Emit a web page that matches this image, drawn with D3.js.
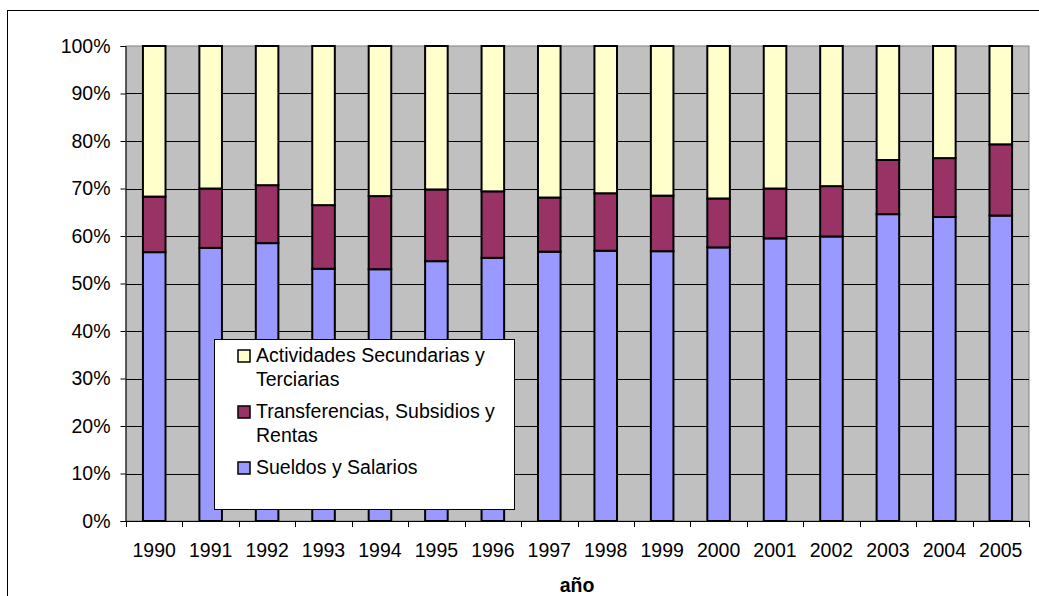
<!DOCTYPE html>
<html>
<head>
<meta charset="utf-8">
<script src="https://cdn.jsdelivr.net/npm/d3@7"></script>
<style>
  body { margin: 0; background: #fff; }
  svg { display: block; font-family: Arial, "Liberation Sans", sans-serif; }
</style>
</head>
<body>
<svg id="chart" width="1039" height="596"></svg>
<script>
const years = ['1990','1991','1992','1993','1994','1995','1996','1997',
  '1998','1999','2000','2001','2002','2003','2004','2005'];

// shares in percent, bottom to top
const sueldos = [56.6, 57.5, 58.5, 53.1, 53.0, 54.7, 55.4, 56.7, 56.9, 56.8, 57.6, 59.5, 59.9, 64.6, 64.0, 64.3];
const transferencias = [11.7, 12.5, 12.2, 13.4, 15.4, 15.1, 14.0, 11.4, 12.1, 11.7, 10.3, 10.5, 10.6, 11.4, 12.4, 15.0];
const actividades = [31.7, 30.0, 29.3, 33.5, 31.6, 30.2, 30.6, 31.9, 31.0, 31.5, 32.1, 30.0, 29.5, 24.0, 23.6, 20.7];

const seriesNames = ['Sueldos y Salarios', 'Transferencias, Subsidios y Rentas', 'Actividades Secundarias y Terciarias'];
const seriesColors = ['#9999FF', '#993366', '#FFFFCC'];
const yTicks = [0, 0.1, 0.2, 0.3, 0.4, 0.5, 0.6, 0.7, 0.8, 0.9, 1];

const fontSize = 19.5;
const svg = d3.select('#chart');

// outer chart border
svg.append('rect')
  .attr('x', 7.5).attr('y', 10.5)
  .attr('width', 1100).attr('height', 700)
  .attr('fill', 'none').attr('stroke', '#000');

const margin = { left: 126, top: 46, right: 1029, bottom: 521 };

const x = d3.scaleBand()
  .domain(years)
  .range([margin.left, margin.right])
  .paddingInner(0.6)
  .paddingOuter(0.3);

const y = d3.scaleLinear().domain([0, 1]).range([margin.bottom, margin.top]);

// build stack table
const table = years.map((yr, i) => ({
  year: yr,
  s0: sueldos[i], s1: transferencias[i], s2: actividades[i]
}));
const stack = d3.stack().keys(['s0', 's1', 's2']).offset(d3.stackOffsetExpand);
const layers = stack(table);

// plot background
svg.append('rect')
  .attr('x', margin.left).attr('y', margin.top)
  .attr('width', margin.right - margin.left)
  .attr('height', margin.bottom - margin.top)
  .attr('fill', '#C0C0C0')
  .attr('stroke', '#808080');

// gridlines
svg.append('g')
  .selectAll('line')
  .data(yTicks.slice(1, -1))
  .join('line')
  .attr('x1', margin.left).attr('x2', margin.right)
  .attr('y1', d => Math.round(y(d)) + 0.5).attr('y2', d => Math.round(y(d)) + 0.5)
  .attr('stroke', '#000').attr('stroke-width', 1);

// bars
svg.append('g')
  .selectAll('g')
  .data(layers)
  .join('g')
  .attr('fill', (d, i) => seriesColors[i])
  .selectAll('rect')
  .data(d => d)
  .join('rect')
  .attr('x', d => x(d.data.year))
  .attr('width', x.bandwidth())
  .attr('y', d => y(d[1]))
  .attr('height', d => y(d[0]) - y(d[1]))
  .attr('stroke', '#000')
  .attr('stroke-width', 2);

// y axis
const yAxis = d3.axisLeft(y)
  .tickValues(yTicks)
  .tickFormat(d3.format('.0%'))
  .tickSize(5)
  .tickPadding(10);
const gy = svg.append('g')
  .attr('transform', `translate(${margin.left - 0.5},0)`)
  .call(yAxis);
gy.select('.domain').attr('stroke', '#000');
gy.selectAll('.tick line').attr('stroke', '#000');
gy.selectAll('.tick text')
  .attr('font-size', fontSize)
  .attr('font-family', 'Arial, "Liberation Sans", sans-serif')
  .attr('fill', '#000');

// x axis with ticks between categories
const boundaries = d3.range(years.length + 1).map(i => margin.left + i * (margin.right - margin.left) / years.length);
const gx = svg.append('g');
gx.append('line')
  .attr('x1', margin.left).attr('x2', margin.right)
  .attr('y1', margin.bottom + 0.5).attr('y2', margin.bottom + 0.5)
  .attr('stroke', '#000');
gx.selectAll('line.tk')
  .data(boundaries)
  .join('line')
  .attr('class', 'tk')
  .attr('x1', d => Math.round(d) + 0.5).attr('x2', d => Math.round(d) + 0.5)
  .attr('y1', margin.bottom).attr('y2', margin.bottom + 6)
  .attr('stroke', '#000');
gx.selectAll('text')
  .data(years)
  .join('text')
  .attr('x', d => x(d) + x.bandwidth() / 2)
  .attr('y', 557)
  .attr('text-anchor', 'middle')
  .attr('font-size', fontSize)
  .text(d => d);

// axis title
svg.append('text')
  .attr('x', 577).attr('y', 592)
  .attr('text-anchor', 'middle')
  .attr('font-size', fontSize)
  .attr('font-weight', 'bold')
  .text('año');

// legend
const legend = svg.append('g');
legend.append('rect')
  .attr('x', 214.5).attr('y', 339.5)
  .attr('width', 300).attr('height', 170)
  .attr('fill', '#fff').attr('stroke', '#000');

const legendItems = [
  { lines: ['Actividades Secundarias y', 'Terciarias'], color: seriesColors[2], y: 362 },
  { lines: ['Transferencias, Subsidios y', 'Rentas'], color: seriesColors[1], y: 418 },
  { lines: ['Sueldos y Salarios'], color: seriesColors[0], y: 474 }
];
const li = legend.selectAll('g.item')
  .data(legendItems)
  .join('g')
  .attr('class', 'item');
li.append('rect')
  .attr('x', 238).attr('y', d => d.y - 12)
  .attr('width', 12).attr('height', 12)
  .attr('fill', d => d.color)
  .attr('stroke', '#000').attr('stroke-width', 1.5);
li.append('text')
  .attr('x', 256)
  .attr('y', d => d.y)
  .attr('font-size', fontSize)
  .selectAll('tspan')
  .data(d => d.lines)
  .join('tspan')
  .attr('x', 256)
  .attr('dy', (d, i) => i === 0 ? 0 : 24)
  .text(d => d);
</script>
</body>
</html>
